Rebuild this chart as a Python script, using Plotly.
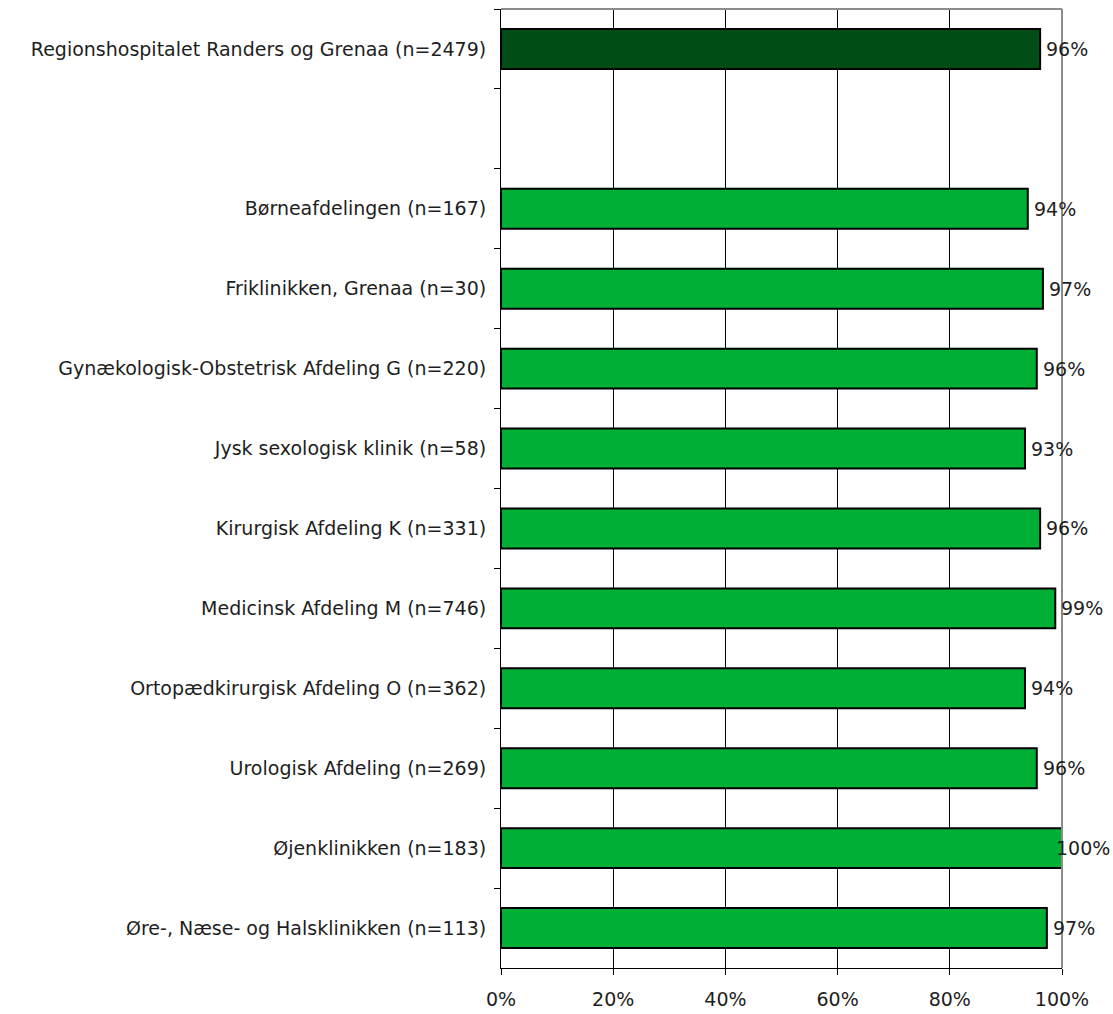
import plotly.graph_objects as go

categories = [
    "Regionshospitalet Randers og Grenaa (n=2479)",
    " ",
    "Børneafdelingen (n=167)",
    "Friklinikken, Grenaa (n=30)",
    "Gynækologisk-Obstetrisk Afdeling G (n=220)",
    "Jysk sexologisk klinik (n=58)",
    "Kirurgisk Afdeling K (n=331)",
    "Medicinsk Afdeling M (n=746)",
    "Ortopædkirurgisk Afdeling O (n=362)",
    "Urologisk Afdeling (n=269)",
    "Øjenklinikken (n=183)",
    "Øre-, Næse- og Halsklinikken (n=113)",
]
values = [0.961, None, 0.939, 0.966, 0.955, 0.934, 0.961, 0.988, 0.934, 0.955, 1.0, 0.973]
value_labels = ["96%", "", "94%", "97%", "96%", "93%", "96%", "99%", "94%", "96%", "100%", "97%"]
x_ticks = [0, 0.2, 0.4, 0.6, 0.8, 1.0]
x_tick_labels = ["0%", "20%", "40%", "60%", "80%", "100%"]

colors = ["#004D15"] + ["#00B034"] * (len(categories) - 1)

font_family = "DejaVu Sans"
font_size = 19
text_color = "#1e1e1e"

fig = go.Figure()
fig.add_trace(go.Bar(
    y=categories,
    x=values,
    orientation="h",
    marker=dict(color=colors, line=dict(color="black", width=2)),
    cliponaxis=False,
    hoverinfo="skip",
))

# value labels placed next to bar ends (shifted left when they would run off the chart)
annotations = []
for cat, v, lab in zip(categories, values, value_labels):
    if v is None or not lab:
        continue
    annotations.append(dict(
        x=v, y=cat, xref="x", yref="y",
        text=lab, showarrow=False,
        xanchor="left", yanchor="middle",
        xshift=-8 if v >= 0.995 else 4,
        font=dict(family=font_family, size=font_size, color=text_color),
    ))

fig.update_layout(
    width=1113,
    height=1014,
    margin=dict(l=501, r=51, t=9, b=46, autoexpand=False),
    paper_bgcolor="white",
    plot_bgcolor="white",
    bargap=0.5,
    showlegend=False,
    font=dict(family=font_family, size=font_size, color=text_color),
    annotations=annotations,
    shapes=[
        dict(type="line", xref="paper", yref="paper", x0=0, x1=1, y0=1, y1=1,
             line=dict(color="#8C8C8C", width=2)),
        dict(type="line", xref="paper", yref="paper", x0=1, x1=1, y0=0, y1=1,
             line=dict(color="#8C8C8C", width=2)),
    ],
)

fig.update_xaxes(
    range=[0, 1],
    tickvals=x_ticks,
    ticktext=x_tick_labels,
    showgrid=True,
    gridcolor="black",
    gridwidth=1,
    ticks="outside",
    ticklen=6,
    tickcolor="black",
    showline=True,
    linecolor="black",
    linewidth=1,
    zeroline=False,
    tickfont=dict(family=font_family, size=font_size, color=text_color),
    ticklabelstandoff=8,
    automargin=False,
    fixedrange=True,
)
fig.update_yaxes(
    type="category",
    categoryorder="array",
    categoryarray=categories,
    autorange="reversed",
    tickson="boundaries",
    ticks="outside",
    ticklen=6,
    tickcolor="black",
    showline=True,
    linecolor="black",
    linewidth=1,
    showgrid=False,
    tickfont=dict(family=font_family, size=font_size, color=text_color),
    ticklabelstandoff=10,
    automargin=False,
    fixedrange=True,
)

fig.write_html("out.html")
